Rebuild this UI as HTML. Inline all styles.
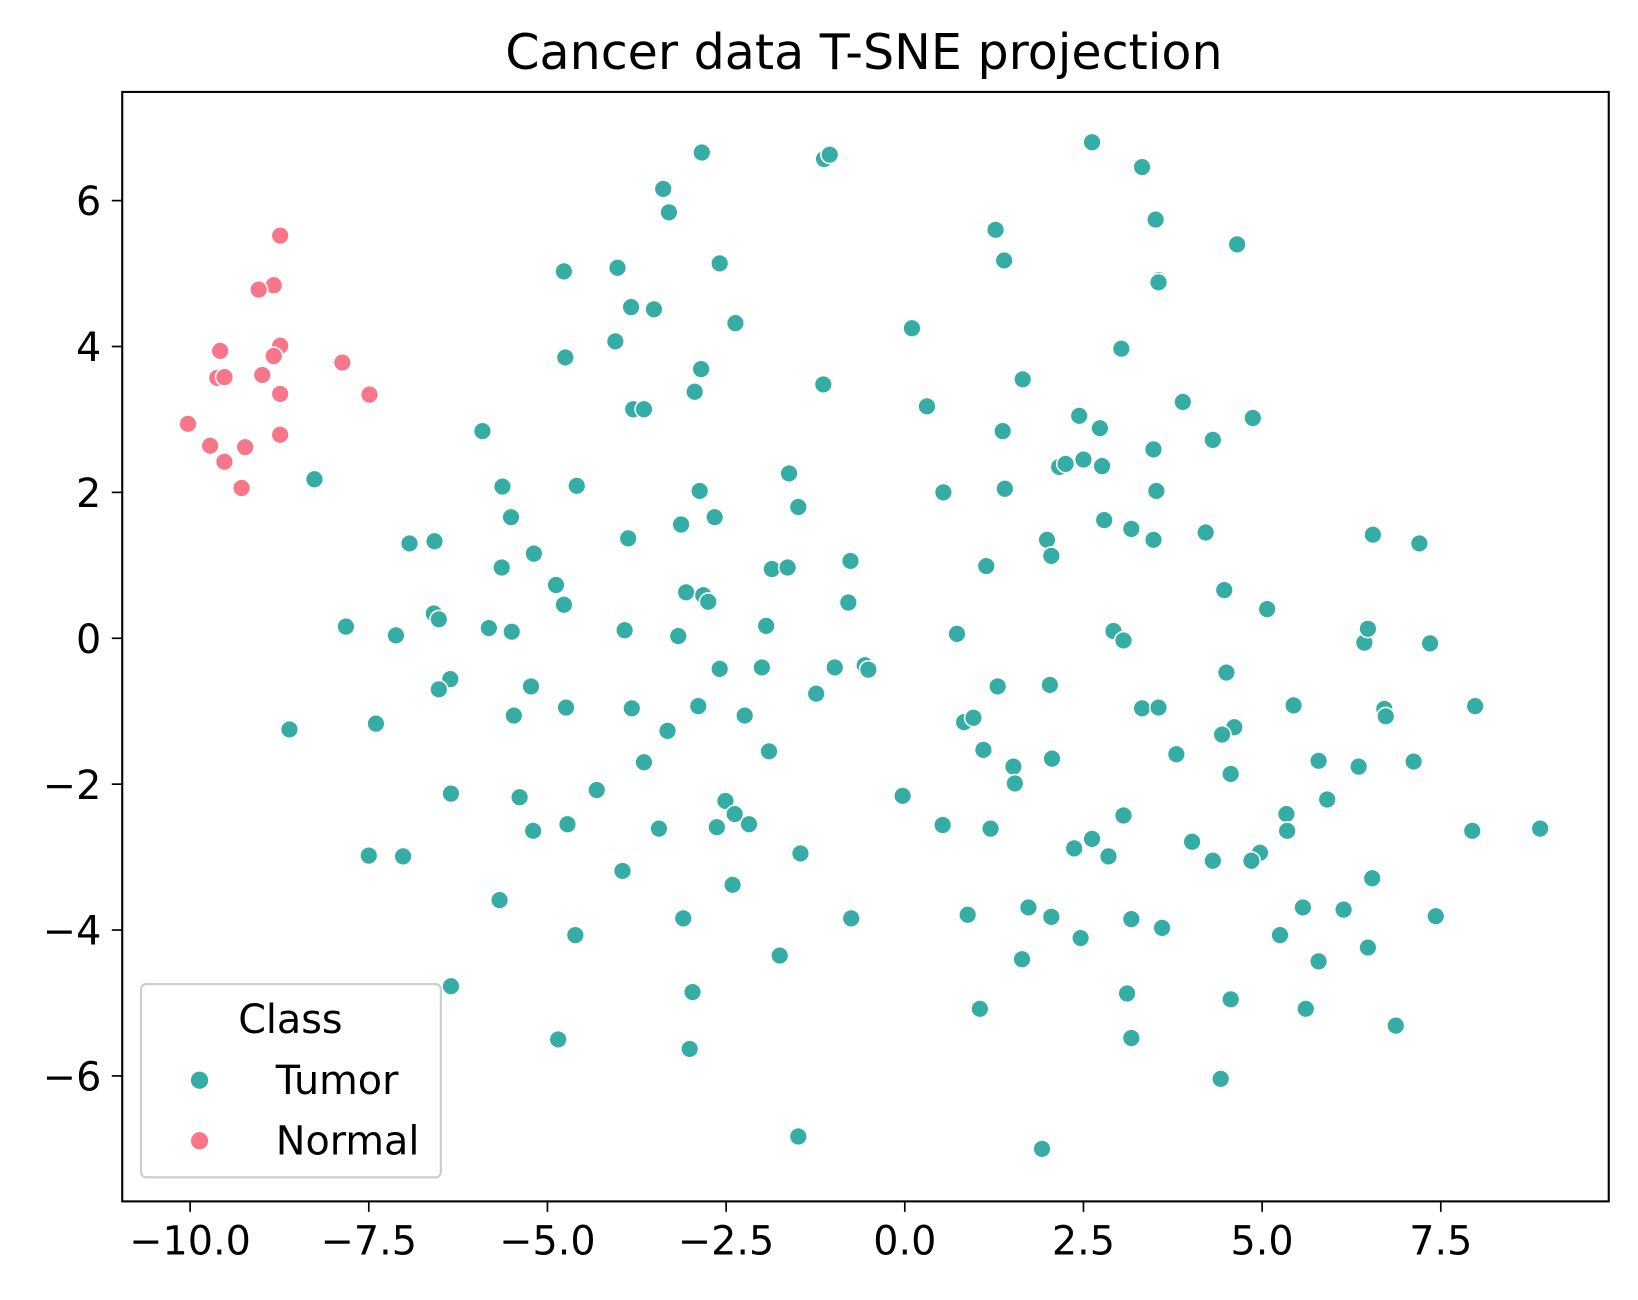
<!DOCTYPE html>
<html><head><meta charset="utf-8"><style>
html,body{margin:0;padding:0;background:#fff}
svg{display:block}
text{font-family:"DejaVu Sans","Liberation Sans",sans-serif;fill:#000}
</style></head><body>
<svg id="chart" width="1638" height="1300" viewBox="0 0 1568 1244.4" preserveAspectRatio="none" xmlns="http://www.w3.org/2000/svg">
<rect width="1568" height="1244.4" fill="#fff"/>
<text x="827" y="66" font-size="47" text-anchor="middle">Cancer data T-SNE projection</text>
<g id="points"></g>
<g id="axes"></g>
<rect x="117" y="88" width="1423" height="1062" fill="none" stroke="#000" stroke-width="2"/>
<g>
<rect x="135" y="942" width="287" height="185" rx="5" fill="#fff" fill-opacity="0.8" stroke="#cccccc" stroke-width="2"/>
<text x="278" y="989" font-size="38" text-anchor="middle">Class</text>
<g><circle cx="191" cy="1034" r="9" fill="#36ada4" stroke="#fff" stroke-width="1.5"/><text x="264" y="1047" font-size="38">Tumor</text></g>
<g><circle cx="191" cy="1092" r="9" fill="#f7768a" stroke="#fff" stroke-width="1.5"/><text x="264" y="1105" font-size="38">Normal</text></g>
</g>
</svg>
<script>
const tumorX=[-2.84,-1.13,-1.05,2.62,3.32,-3.38,-3.30,1.27,3.51,1.39,4.65,3.55,3.55,-4.77,-4.02,-2.59,-3.83,-3.51,-2.37,-4.05,0.10,3.03,-4.75,-2.85,1.65,-1.14,-2.94,-3.80,-3.65,0.31,3.89,-5.91,1.37,2.44,2.73,4.31,4.87,3.48,2.50,2.16,2.25,2.76,-8.26,-1.62,-5.63,-4.59,-2.87,0.54,1.40,3.52,-1.49,-5.51,-3.13,-2.66,2.79,3.17,4.21,-6.93,-6.58,-3.87,-5.19,1.99,2.05,3.48,6.55,7.20,-5.64,-1.86,-1.64,-0.76,1.14,-4.88,-3.06,-2.82,-2.75,-0.79,4.47,-4.77,-6.59,-6.52,5.07,-7.82,-7.12,-5.82,-5.50,-3.92,-3.17,-1.94,0.73,2.92,3.06,6.43,6.48,7.35,-2.59,-2.00,-0.98,-0.56,-0.51,-6.36,4.50,-6.52,-5.23,-1.24,1.30,2.03,-2.89,-4.74,-3.82,3.32,3.55,5.44,6.71,6.73,7.98,-5.47,-2.24,0.83,0.96,-8.61,-7.40,-3.32,4.61,4.44,-1.90,1.10,3.80,-3.65,1.52,1.54,2.06,5.79,6.35,7.12,4.56,-4.31,-6.35,-5.39,-0.03,-2.51,-2.38,5.91,3.06,5.34,-2.18,-2.63,-4.72,-5.20,-3.44,0.53,1.20,5.35,7.94,8.89,2.37,2.62,2.85,4.02,4.31,4.97,4.85,-7.50,-7.02,-1.46,-3.95,-2.41,6.54,-5.67,1.73,5.57,6.14,-3.10,-0.75,0.88,2.05,3.17,7.43,3.60,-4.61,5.25,2.46,6.48,-1.75,1.64,5.79,-6.35,-2.97,3.11,4.56,1.05,5.61,6.87,-4.85,3.17,-3.01,4.42,-1.49,1.92];
const tumorY=[6.66,6.57,6.63,6.80,6.46,6.16,5.84,5.60,5.74,5.18,5.40,4.91,4.88,5.03,5.08,5.14,4.54,4.51,4.32,4.07,4.25,3.97,3.85,3.69,3.55,3.48,3.38,3.14,3.14,3.18,3.24,2.84,2.84,3.05,2.88,2.72,3.02,2.59,2.45,2.35,2.39,2.36,2.18,2.26,2.08,2.09,2.02,2.00,2.05,2.02,1.80,1.66,1.56,1.66,1.62,1.50,1.45,1.30,1.33,1.37,1.16,1.35,1.13,1.35,1.42,1.30,0.97,0.95,0.97,1.06,0.99,0.73,0.63,0.59,0.50,0.49,0.66,0.46,0.34,0.26,0.40,0.16,0.04,0.14,0.09,0.11,0.03,0.17,0.06,0.10,-0.03,-0.06,0.13,-0.07,-0.42,-0.40,-0.40,-0.37,-0.43,-0.56,-0.47,-0.70,-0.66,-0.76,-0.66,-0.64,-0.93,-0.95,-0.96,-0.96,-0.95,-0.92,-0.97,-1.07,-0.93,-1.06,-1.06,-1.15,-1.09,-1.25,-1.17,-1.27,-1.22,-1.32,-1.55,-1.53,-1.59,-1.70,-1.76,-1.99,-1.65,-1.68,-1.76,-1.69,-1.86,-2.08,-2.13,-2.18,-2.16,-2.23,-2.41,-2.21,-2.43,-2.41,-2.55,-2.59,-2.55,-2.64,-2.61,-2.56,-2.61,-2.64,-2.64,-2.61,-2.88,-2.75,-2.99,-2.79,-3.05,-2.94,-3.05,-2.98,-2.99,-2.95,-3.19,-3.38,-3.29,-3.59,-3.69,-3.69,-3.72,-3.84,-3.84,-3.79,-3.82,-3.85,-3.81,-3.97,-4.07,-4.07,-4.11,-4.24,-4.35,-4.40,-4.43,-4.77,-4.85,-4.87,-4.95,-5.08,-5.08,-5.31,-5.50,-5.48,-5.63,-6.04,-6.83,-7.00];
const normalX=[-8.74,-8.83,-9.04,-8.74,-9.58,-8.83,-9.62,-9.52,-8.99,-8.74,-7.87,-7.49,-10.03,-9.72,-9.23,-9.52,-8.74,-9.28];
const normalY=[5.52,4.84,4.78,4.01,3.94,3.87,3.57,3.58,3.61,3.35,3.78,3.34,2.94,2.64,2.62,2.42,2.79,2.06];
const xTicks=[-10,-7.5,-5,-2.5,0,2.5,5,7.5];
const xTickLabels=["\u221210.0","\u22127.5","\u22125.0","\u22122.5","0.0","2.5","5.0","7.5"];
const yTicks=[-6,-4,-2,0,2,4,6];
const yTickLabels=["\u22126","\u22124","\u22122","0","2","4","6"];

const NS="http://www.w3.org/2000/svg";
const X0=117,X1=1540,Y0=88,Y1=1150,XMIN=-10.95,XMAX=9.85,YMIN=-7.72,YMAX=7.49;
function sx(v){return X0+(v-XMIN)/(XMAX-XMIN)*(X1-X0);}
function sy(v){return Y1-(v-YMIN)/(YMAX-YMIN)*(Y1-Y0);}
const pts=document.getElementById('points');
function drawSeries(xs,ys,color,name){
  for(let i=0;i<xs.length;i++){
    const c=document.createElementNS(NS,'circle');
    c.setAttribute('cx',sx(xs[i]));c.setAttribute('cy',sy(ys[i]));c.setAttribute('r',8.5);
    c.setAttribute('fill',color);c.setAttribute('stroke','#fff');c.setAttribute('stroke-width',1.5);
    
    
    pts.appendChild(c);
  }
}
drawSeries(tumorX,tumorY,'#36ada4','tumor-point');
drawSeries(normalX,normalY,'#f7768a','normal-point');
const ax=document.getElementById('axes');
xTicks.forEach((t,i)=>{
  const x=sx(t);
  const l=document.createElementNS(NS,'line');
  l.setAttribute('x1',x);l.setAttribute('x2',x);l.setAttribute('y1',Y1);l.setAttribute('y2',Y1+10);
  l.setAttribute('stroke','#000');l.setAttribute('stroke-width',1.6);
  
  
  ax.appendChild(l);
  const tx=document.createElementNS(NS,'text');
  tx.setAttribute('x',x);tx.setAttribute('y',Y1+51);tx.setAttribute('font-size',38);tx.setAttribute('text-anchor','middle');
  tx.textContent=xTickLabels[i];
  
  
  ax.appendChild(tx);
});
yTicks.forEach((t,i)=>{
  const y=sy(t);
  const l=document.createElementNS(NS,'line');
  l.setAttribute('x1',X0-10);l.setAttribute('x2',X0);l.setAttribute('y1',y);l.setAttribute('y2',y);
  l.setAttribute('stroke','#000');l.setAttribute('stroke-width',1.6);
  
  
  ax.appendChild(l);
  const tx=document.createElementNS(NS,'text');
  tx.setAttribute('x',X0-20);tx.setAttribute('y',y+14);tx.setAttribute('font-size',38);tx.setAttribute('text-anchor','end');
  tx.textContent=yTickLabels[i];
  
  
  ax.appendChild(tx);
});
</script>
</body></html>
